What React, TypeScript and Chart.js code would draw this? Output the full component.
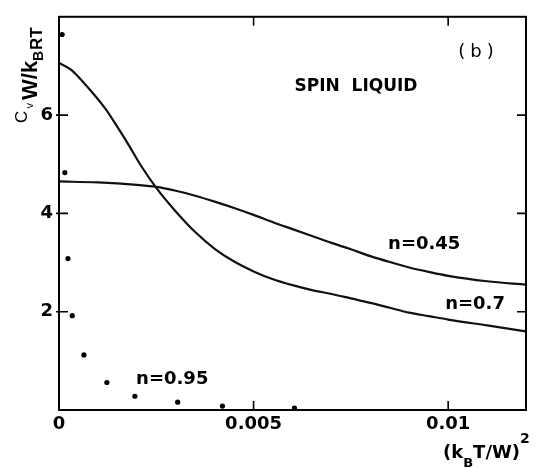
import React, { useEffect, useRef } from "react";
import { Chart, registerables } from "chart.js";

Chart.register(...registerables);

// n = 0.45 curve
const x045 = [0, 0.001, 0.002, 0.0025, 0.003, 0.0035, 0.004, 0.0045, 0.005, 0.0055, 0.006, 0.0065, 0.007, 0.0075, 0.008, 0.0085, 0.009, 0.0095, 0.01, 0.011, 0.012];
const y045 = [4.65, 4.63, 4.58, 4.54, 4.46, 4.36, 4.24, 4.11, 3.97, 3.82, 3.68, 3.54, 3.4, 3.27, 3.13, 3.01, 2.9, 2.81, 2.73, 2.62, 2.55];

// n = 0.7 curve
const x07 = [0, 0.0003, 0.0006, 0.0009, 0.0012, 0.0015, 0.0018, 0.0021, 0.0025, 0.003, 0.0035, 0.004, 0.0045, 0.005, 0.0055, 0.006, 0.0065, 0.007, 0.0075, 0.008, 0.0085, 0.009, 0.0095, 0.01, 0.011, 0.012];
const y07 = [7.06, 6.93, 6.69, 6.42, 6.12, 5.76, 5.38, 4.98, 4.52, 4.04, 3.62, 3.28, 3.02, 2.82, 2.66, 2.54, 2.44, 2.36, 2.27, 2.18, 2.08, 1.98, 1.91, 1.84, 1.72, 1.6];

// n = 0.95 points
const x095 = [0.00008, 0.00015, 0.00023, 0.00034, 0.00064, 0.00123, 0.00195, 0.00305, 0.0042, 0.00605];
const y095 = [7.64, 4.83, 3.08, 1.92, 1.12, 0.56, 0.28, 0.16, 0.08, 0.04];

const xTicks = [0, 0.005, 0.01];
const xTickLabels = ["0", "0.005", "0.01"];
const yTicks = [2, 4, 6];
const yTickLabels = ["2", "4", "6"];

const seriesLabels = ["n=0.45", "n=0.7", "n=0.95"];
const titleText = "SPIN LIQUID";
const panelText = "(b)";

const FONT = "'DejaVu Sans', 'Liberation Sans', Arial, sans-serif";
const LFONT = "'Liberation Sans', Arial, sans-serif";

const toPts = (xs: number[], ys: number[]) => xs.map((x, i) => ({ x, y: ys[i] }));

const framePlugin = {
  id: "frame",
  afterDraw(chart: any) {
    const { ctx, chartArea: a, scales } = chart;
    const xs = scales.x;
    const ys = scales.y;
    ctx.save();
    ctx.strokeStyle = "#000";
    ctx.lineWidth = 2;
    ctx.strokeRect(a.left, a.top, a.right - a.left, a.bottom - a.top);
    const tl = 9;
    ctx.lineWidth = 1.6;
    ctx.beginPath();
    for (const v of xTicks) {
      if (v === 0) continue;
      const px = xs.getPixelForValue(v);
      ctx.moveTo(px, a.bottom);
      ctx.lineTo(px, a.bottom - tl);
      ctx.moveTo(px, a.top);
      ctx.lineTo(px, a.top + tl);
    }
    for (const v of yTicks) {
      const py = ys.getPixelForValue(v);
      ctx.moveTo(a.left - 3, py);
      ctx.lineTo(a.left + tl, py);
      ctx.moveTo(a.right, py);
      ctx.lineTo(a.right - tl, py);
    }
    ctx.stroke();

    ctx.fillStyle = "#000";
    ctx.textAlign = "center";
    ctx.textBaseline = "middle";
    ctx.font = `bold 18px ${FONT}`;
    const put = (t: string, x: number, y: number) =>
      ctx.fillText(t, xs.getPixelForValue(x), ys.getPixelForValue(y));
    put(seriesLabels[0], 0.009385, 3.37);
    put(seriesLabels[1], 0.01069, 2.15);
    put(seriesLabels[2], 0.00291, 0.63);
    ctx.font = `bold 17px ${FONT}`;
    put(titleText.replace(" ", "  "), 0.00763, 6.58);
    ctx.font = `18px ${FONT}`;
    (ctx as any).letterSpacing = "5px";
    put(panelText, 0.01078, 7.28);
    (ctx as any).letterSpacing = "0px";

    // x-axis title (k_B T / W)^2
    ctx.textAlign = "left";
    ctx.textBaseline = "alphabetic";
    let cx = 443;
    const seg = (t: string, font: string, base: number) => {
      ctx.font = font;
      ctx.fillText(t, cx, base);
      cx += ctx.measureText(t).width;
    };
    seg("(k", `bold 18px ${FONT}`, 458);
    seg("B", `bold 13px ${FONT}`, 467);
    seg("T/W)", `bold 18px ${FONT}`, 458);
    seg("2", `bold 14px ${FONT}`, 443);

    // y-axis title C_v W / k_B RT (rotated)
    ctx.save();
    ctx.rotate(-Math.PI / 2);
    const yseg = (t: string, font: string, startY: number, baseX: number) => {
      ctx.font = font;
      ctx.fillText(t, -startY, baseX);
    };
    yseg("C", `17px ${LFONT}`, 123, 27);
    yseg("v", `11px ${LFONT}`, 108.5, 33);
    yseg("W/k", `bold 22px ${LFONT}`, 100, 37);
    yseg("B", `bold 14px ${LFONT}`, 61, 43);
    yseg("RT", `bold 17px ${LFONT}`, 50, 42);
    ctx.restore();
    ctx.restore();
  },
};

export default function App() {
  const ref = useRef<HTMLCanvasElement | null>(null);
  useEffect(() => {
    if (!ref.current) return;
    const line = (data: any) => ({
      data,
      showLine: true,
      borderColor: "#111",
      borderWidth: 2.2,
      pointRadius: 0,
      cubicInterpolationMode: "monotone" as const,
      fill: false,
    });
    const chart = new Chart(ref.current, {
      type: "scatter",
      data: {
        datasets: [
          { label: seriesLabels[0], ...line(toPts(x045, y045)) },
          { label: seriesLabels[1], ...line(toPts(x07, y07)) },
          {
            label: seriesLabels[2],
            data: toPts(x095, y095),
            showLine: false,
            pointRadius: 2.6,
            pointBackgroundColor: "#000",
            pointBorderColor: "#000",
            pointBorderWidth: 0,
          },
        ],
      },
      options: {
        responsive: false,
        animation: false,
        events: [],
        layout: { padding: { top: 11, right: 13, left: 0, bottom: 0 } },
        plugins: { legend: { display: false }, tooltip: { enabled: false } },
        scales: {
          x: {
            type: "linear",
            min: 0,
            max: 0.012,
            grid: { display: false, drawTicks: false },
            border: { display: false },
            afterBuildTicks: (s: any) => {
              s.ticks = xTicks.map((v) => ({ value: v }));
            },
            afterFit: (s: any) => {
              s.height = 58;
            },
            ticks: {
              padding: 4,
              maxRotation: 0,
              autoSkip: false,
              color: "#000",
              font: { family: FONT, size: 18, weight: "bold" },
              callback: (v: any) => {
                const i = xTicks.indexOf(Number(v));
                return i >= 0 ? xTickLabels[i] : "";
              },
            },
          },
          y: {
            type: "linear",
            min: 0,
            max: 8,
            grid: { display: false, drawTicks: false },
            border: { display: false },
            afterBuildTicks: (s: any) => {
              s.ticks = yTicks.map((v) => ({ value: v }));
            },
            afterFit: (s: any) => {
              s.width = 59;
            },
            ticks: {
              padding: 6,
              autoSkip: false,
              color: "#000",
              font: { family: FONT, size: 18, weight: "bold" },
              callback: (v: any) => {
                const i = yTicks.indexOf(Number(v));
                return i >= 0 ? yTickLabels[i] : "";
              },
            },
          },
        },
      },
      plugins: [framePlugin],
    });
    return () => chart.destroy();
  }, []);
  return (
    <div style={{ position: "absolute", left: 0, top: 0, width: 539, height: 468, background: "#fff" }}>
      <canvas ref={ref} width={539} height={468} style={{ display: "block" }} />
    </div>
  );
}
